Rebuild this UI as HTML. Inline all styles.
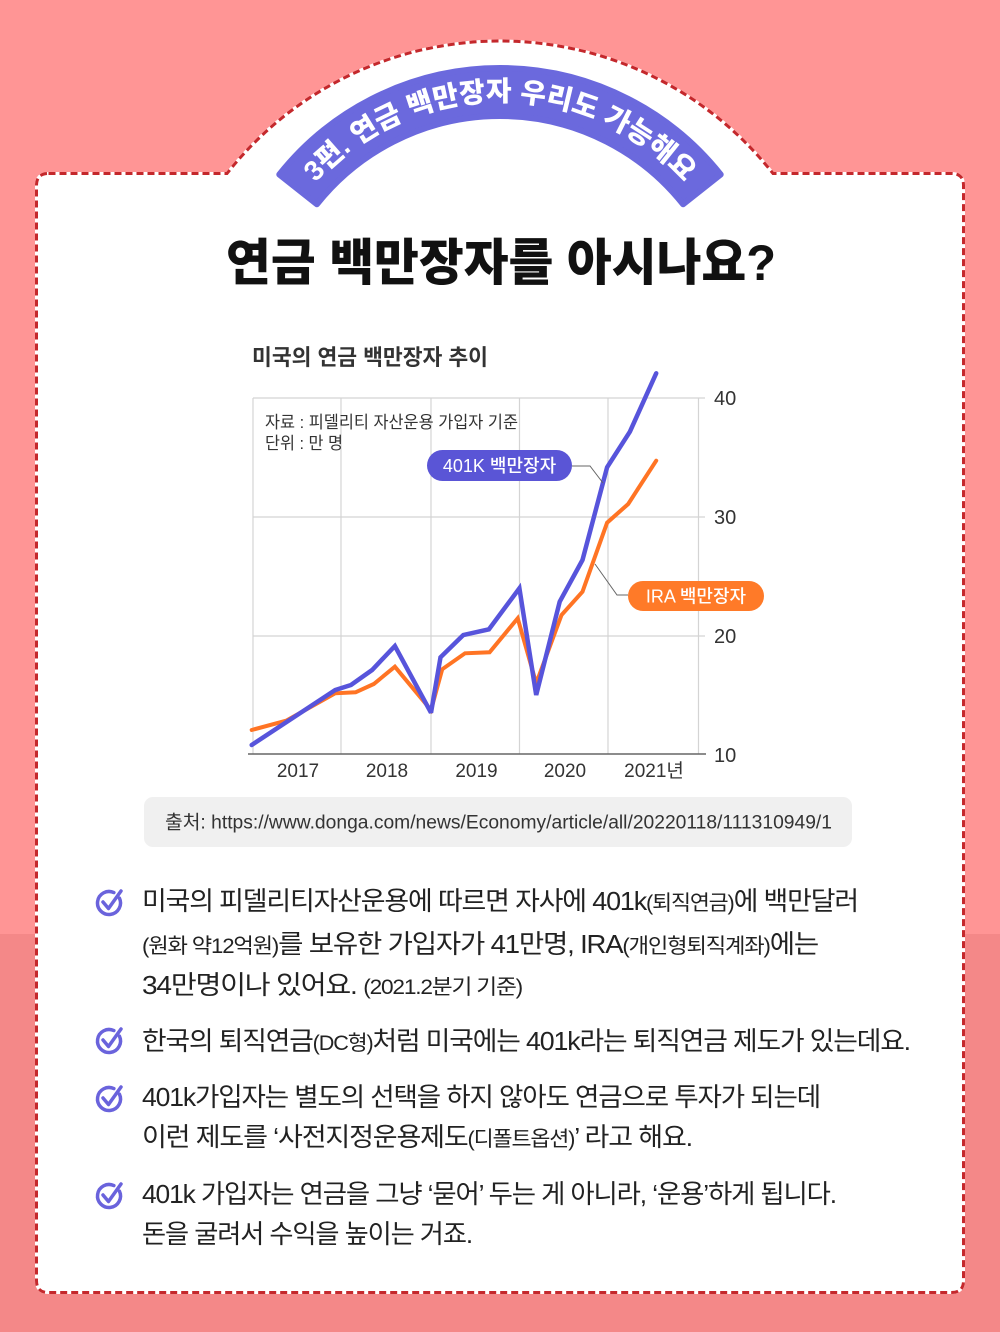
<!DOCTYPE html>
<html><head><meta charset="utf-8">
<style>
html,body{margin:0;padding:0;background:#ff9595;}
svg{display:block;}
text{font-family:"Liberation Sans","Noto Sans CJK KR",sans-serif;}
.body{font-size:26px;fill:#222;letter-spacing:-1.1px;}
.sm{font-size:21px;}
</style></head>
<body>
<svg width="1000" height="1332" viewBox="0 0 1000 1332" xmlns="http://www.w3.org/2000/svg">
  <rect x="0" y="0" width="1000" height="934" fill="#ff9595"/>
  <rect x="0" y="934" width="1000" height="398" fill="#f48888"/>

  <!-- card -->
  <path d="M 48.5,173.5 L 227,173.5 A 347.5 347.5 0 0 1 773,173.5 L 951.5,173.5 Q 963.5,173.5 963.5,185.5 L 963.5,1280.5 Q 963.5,1292.5 951.5,1292.5 L 48.5,1292.5 Q 36.5,1292.5 36.5,1280.5 L 36.5,185.5 Q 36.5,173.5 48.5,173.5 Z" fill="#ffffff" stroke="#ffffff" stroke-width="3"/>
  <path d="M 48.5,173.5 L 227,173.5 A 347.5 347.5 0 0 1 773,173.5 L 951.5,173.5 Q 963.5,173.5 963.5,185.5 L 963.5,1280.5 Q 963.5,1292.5 951.5,1292.5 L 48.5,1292.5 Q 36.5,1292.5 36.5,1280.5 L 36.5,185.5 Q 36.5,173.5 48.5,173.5 Z" fill="none" stroke="#c4282c" stroke-width="3" stroke-dasharray="7 4"/>

  <!-- purple band -->
  <path d="M 279.3,174.5 A 282 282 0 0 1 720.7,174.5 L 683.1,204.3 A 234 234 0 0 0 316.9,204.3 Z" fill="#6b69dd" stroke="#6b69dd" stroke-width="6" stroke-linejoin="round"/>
  <path id="bandtext" d="M 251,350 A 249 249 0 0 1 749,350" fill="none"/>
  <text font-size="28" font-weight="900" fill="#ffffff"><textPath href="#bandtext" startOffset="50%" text-anchor="middle">3편. 연금 백만장자 우리도 가능해요</textPath></text>

  <!-- main title -->
  <text x="226" y="280" textLength="550" lengthAdjust="spacingAndGlyphs" font-size="50" font-weight="900" fill="#111">연금 백만장자를 아시나요?</text>

  <!-- chart title -->
  <text x="252" y="365" textLength="236" lengthAdjust="spacingAndGlyphs" font-size="22" font-weight="700" fill="#333">미국의 연금 백만장자 추이</text>

  <!-- grid -->
  <g stroke="#d4d4d4" stroke-width="1.2" fill="none">
    <line x1="253" y1="398" x2="705" y2="398"/>
    <line x1="253" y1="517" x2="705" y2="517"/>
    <line x1="253" y1="636" x2="705" y2="636"/>
    <line x1="253" y1="398" x2="253" y2="754"/>
    <line x1="341" y1="398" x2="341" y2="754"/>
    <line x1="431" y1="398" x2="431" y2="754"/>
    <line x1="519.5" y1="398" x2="519.5" y2="754"/>
    <line x1="608" y1="398" x2="608" y2="754"/>
    <line x1="698.5" y1="398" x2="698.5" y2="754"/>
  </g>
  <line x1="248" y1="754" x2="706" y2="754" stroke="#666" stroke-width="1.5"/>

  <!-- notes -->
  <text x="265" y="428" textLength="253" lengthAdjust="spacingAndGlyphs" font-size="17" fill="#333">자료 : 피델리티 자산운용 가입자 기준</text>
  <text x="265" y="449" textLength="78" lengthAdjust="spacingAndGlyphs" font-size="17" fill="#333">단위 : 만 명</text>

  <!-- y labels -->
  <g font-size="20" fill="#333">
    <text x="714" y="405">40</text>
    <text x="714" y="524">30</text>
    <text x="714" y="643">20</text>
    <text x="714" y="762">10</text>
  </g>
  <!-- x labels -->
  <g font-size="19" fill="#333" text-anchor="middle">
    <text x="298" y="777">2017</text>
    <text x="387" y="777">2018</text>
    <text x="476.5" y="777">2019</text>
    <text x="565" y="777">2020</text>
    <text x="654" y="777">2021년</text>
  </g>

  <!-- series -->
  <polyline fill="none" stroke="#ff7424" stroke-width="4" stroke-linecap="round" stroke-linejoin="miter" stroke-miterlimit="3"
    points="251.7,730 286.1,720.7 335.2,693.3 355.6,692.3 373.8,684 394.9,666.7 431,710 442.2,669.3 465,653.3 489.6,652.3 517.7,618.3 536.2,683.3 561.5,615 582.5,591.7 607.1,522.7 628.2,504 656.2,460.7"/>
  <polyline fill="none" stroke="#5754db" stroke-width="4.5" stroke-linecap="round" stroke-linejoin="miter" stroke-miterlimit="3"
    points="251.7,745 335.2,690 351,685 372.1,670 394.9,646 431,712.7 440.5,657.3 463.3,635 488.9,629.3 519.4,588.3 536.2,695 559.7,601.7 582.5,560 607.1,467.3 629.9,431.7 656.2,373.3"/>

  <!-- leaders -->
  <polyline points="572,466 590,466 603,483" fill="none" stroke="#666" stroke-width="1"/>
  <polyline points="628,595 617,595 595,564" fill="none" stroke="#666" stroke-width="1"/>

  <!-- pills -->
  <rect x="427" y="450" width="145" height="31" rx="15.5" fill="#5a55d6"/>
  <text x="499.5" y="472" text-anchor="middle" font-size="18" font-weight="500" fill="#fff">401K 백만장자</text>
  <rect x="628" y="581" width="136" height="30" rx="15" fill="#ff7a28"/>
  <text x="696" y="602.5" text-anchor="middle" font-size="18" font-weight="500" fill="#fff">IRA 백만장자</text>

  <!-- source box -->
  <rect x="144" y="797" width="708" height="50" rx="9" fill="#f0f0f0"/>
  <text x="165" y="828.5" textLength="667" lengthAdjust="spacingAndGlyphs" font-size="19" fill="#333">출처: https://www.donga.com/news/Economy/article/all/20220118/111310949/1</text>

  <!-- check icons -->
  <defs>
    <g id="chk" fill="none" stroke="#6a63dc" stroke-width="3.5" stroke-linecap="round" stroke-linejoin="round">
      <path d="M 10.42 -4.86 A 11.5 11.5 0 1 1 4.86 -10.42"/>
      <path d="M -6 -1 L -0.5 5.5 L 12 -12"/>
    </g>
  </defs>
  <use href="#chk" x="109" y="903"/>
  <use href="#chk" x="109" y="1041"/>
  <use href="#chk" x="109" y="1099"/>
  <use href="#chk" x="109" y="1196"/>

  <!-- body text -->
  <g class="body">
    <text x="142" y="910" textLength="716" lengthAdjust="spacingAndGlyphs">미국의 피델리티자산운용에 따르면 자사에 401k<tspan class="sm">(퇴직연금)</tspan>에 백만달러</text>
    <text x="142" y="953" textLength="676" lengthAdjust="spacingAndGlyphs"><tspan class="sm">(원화 약12억원)</tspan>를 보유한 가입자가 41만명, IRA<tspan class="sm">(개인형퇴직계좌)</tspan>에는</text>
    <text x="142" y="994" textLength="380" lengthAdjust="spacingAndGlyphs">34만명이나 있어요. <tspan class="sm">(2021.2분기 기준)</tspan></text>
    <text x="142" y="1050" textLength="768" lengthAdjust="spacingAndGlyphs">한국의 퇴직연금<tspan class="sm">(DC형)</tspan>처럼 미국에는 401k라는 퇴직연금 제도가 있는데요.</text>
    <text x="142" y="1106" textLength="678" lengthAdjust="spacingAndGlyphs">401k가입자는 별도의 선택을 하지 않아도 연금으로 투자가 되는데</text>
    <text x="142" y="1146" textLength="550" lengthAdjust="spacingAndGlyphs">이런 제도를 ‘사전지정운용제도<tspan class="sm">(디폴트옵션)</tspan>’ 라고 해요.</text>
    <text x="142" y="1203" textLength="694" lengthAdjust="spacingAndGlyphs">401k 가입자는 연금을 그냥 ‘묻어’ 두는 게 아니라, ‘운용’하게 됩니다.</text>
    <text x="142" y="1243" textLength="330" lengthAdjust="spacingAndGlyphs">돈을 굴려서 수익을 높이는 거죠.</text>
  </g>
</svg>
</body></html>
